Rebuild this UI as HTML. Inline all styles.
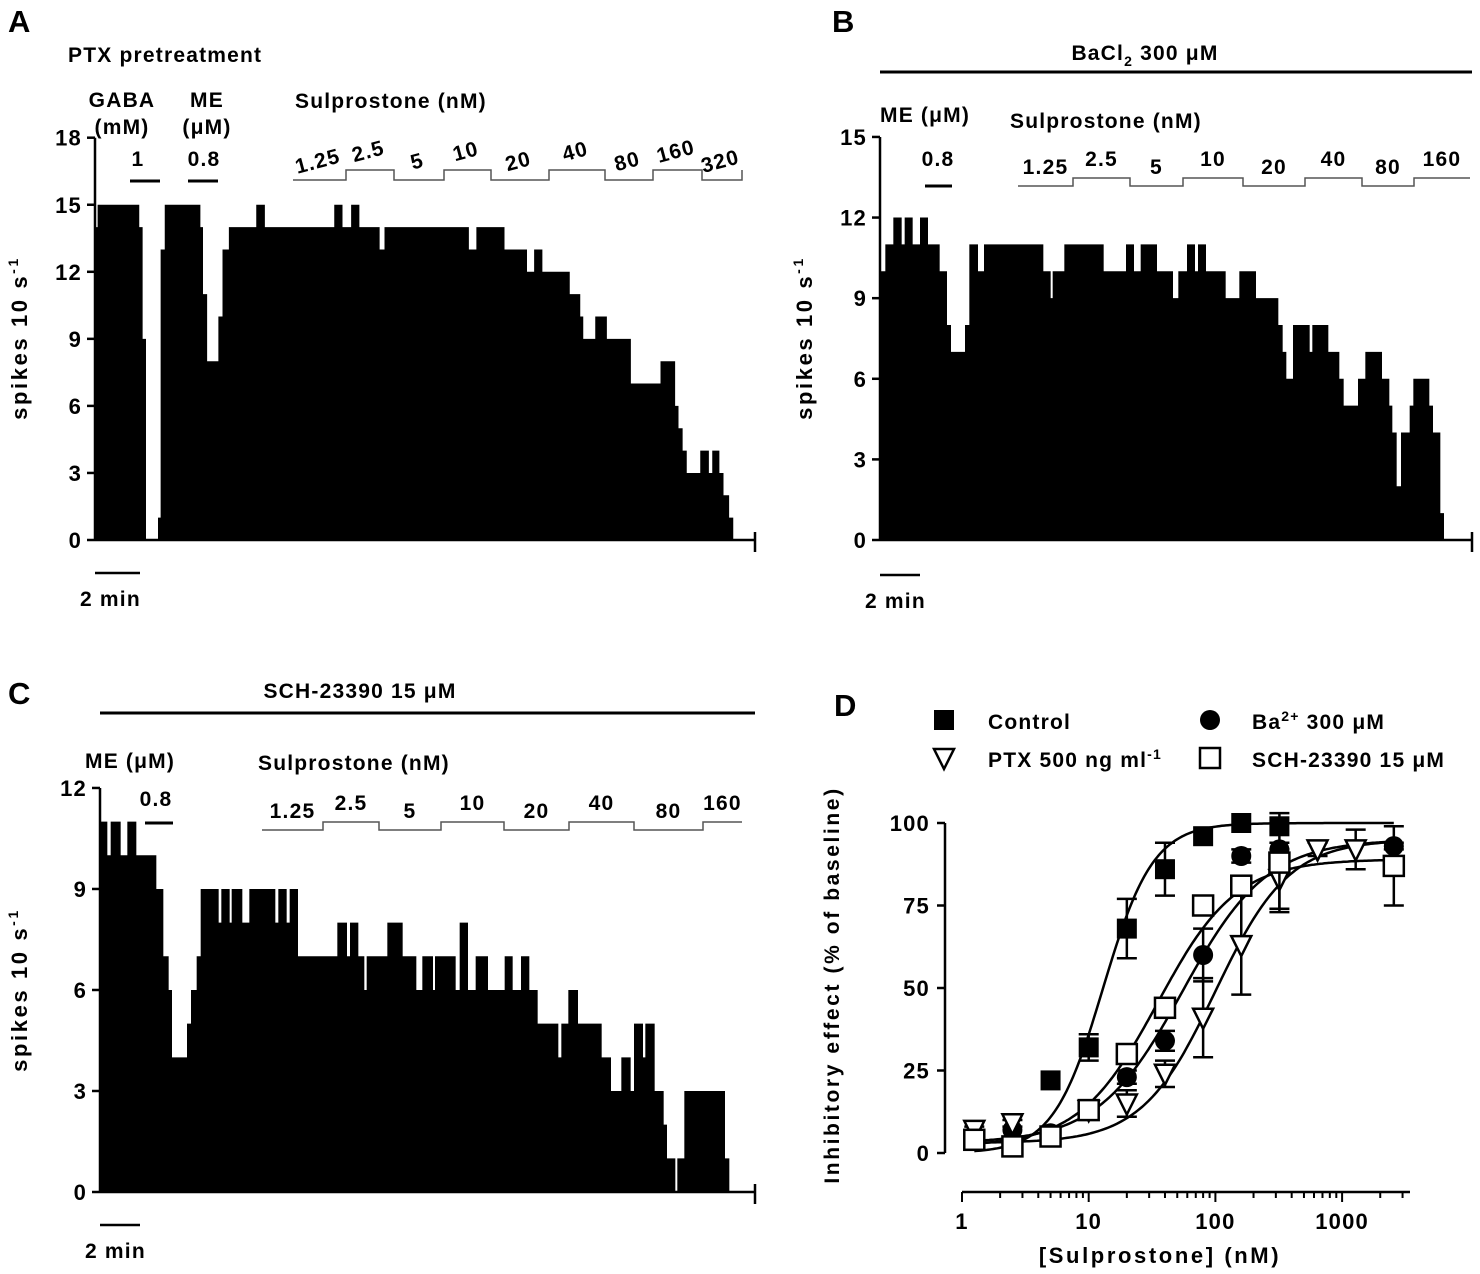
<!DOCTYPE html>
<html><head><meta charset="utf-8"><style>
html,body{margin:0;padding:0;background:#fff}
svg{display:block;font-family:"Liberation Sans",Arial,sans-serif;font-weight:bold;letter-spacing:1.2px}
.ttl{letter-spacing:2.6px}
</style></head><body>
<svg id="fig" width="1480" height="1274" viewBox="0 0 1480 1274" xmlns="http://www.w3.org/2000/svg">
<g font-size="31">
<text x="8" y="32">A</text>
<text x="832" y="32">B</text>
<text x="8" y="704">C</text>
<text x="834" y="716">D</text>
</g>
<g id="pa" font-size="21"></g>
<g id="pb" font-size="21"></g>
<g id="pc" font-size="21"></g>
<g id="pd" font-size="21"></g>
</svg>
<script>
// ---- Panel A data (segment value, segment end time in s) ----
const aVals=[14,15,14,9,0,1,13,15,14,11,8,10,13,14,15,14,15,14,15,14,13,14,13,14,13,12,13,12,11,10,9,10,9,7,8,6,5,4,3,4,3,4,3,2,1];
const aEnds=[7,118,127,136,168,175,186,281,288,299,329,340,357,430,453,638,660,683,705,759,772,997,1017,1092,1152,1171,1193,1266,1294,1302,1334,1365,1429,1508,1547,1556,1567,1578,1614,1637,1646,1665,1676,1691,1702];
const aTicks=[0,3,6,9,12,15,18];
const aConc=["1.25","2.5","5","10","20","40","80","160","320"];
// ---- Panel B data ----
const bVals=[10,11,12,11,12,11,12,11,10,8,7,8,11,10,11,10,9,10,11,10,11,10,11,10,9,10,11,10,11,10,9,10,9,8,7,6,8,7,8,7,6,5,6,7,6,5,4,2,4,5,6,5,4,1];
const bEnds=[16,40,65,74,98,120,144,179,201,213,255,268,294,312,490,512,518,553,671,738,762,782,831,879,895,921,945,954,978,1037,1078,1128,1195,1208,1219,1239,1289,1297,1345,1378,1391,1434,1456,1506,1528,1537,1550,1563,1589,1600,1648,1659,1681,1692];
const bTicks=[0,3,6,9,12,15];
const bConc=["1.25","2.5","5","10","20","40","80","160"];
// ---- Panel C data ----
const cVals=[11,10,11,10,11,10,9,7,6,4,5,6,7,9,8,9,8,9,8,9,8,9,8,9,7,8,7,8,7,6,7,8,7,6,7,6,7,6,8,6,7,6,7,6,7,6,5,4,5,6,5,4,3,4,3,5,4,5,3,2,1,0,1,3,1];
const cEnds=[22,32,62,82,109,169,190,206,216,261,273,290,302,356,364,389,395,427,448,526,535,560,569,594,712,741,750,775,793,800,862,908,949,967,999,1005,1067,1079,1104,1127,1164,1214,1238,1263,1288,1313,1375,1384,1405,1434,1505,1533,1564,1592,1602,1629,1636,1664,1691,1701,1726,1732,1753,1875,1888];
const cTicks=[0,3,6,9,12];
const cConc=["1.25","2.5","5","10","20","40","80","160"];
// ---- Panel D data ----
const dConc=[1.25,2.5,5,10,20,40,80,160,320,640,1280,2560];
const ctrlMean=[null,null,22,32,68,86,96,100,99,null,null,null];
const ctrlErr=[0,0,0,4,9,8,0,0,0,0,0,0];
const baMean=[5,7,6,13,23,34,60,90,92,null,null,93];
const baErr=[0,0,0,0,2,3,8,2,2,0,0,1];
const ptxMean=[7,9,null,13,15,24,41,63,83,92,92,null];
const ptxErr=[1,1,0,2,4,4,12,15,9,2,6,0];
const schMean=[4,2,5,13,30,44,75,81,88,null,null,87];
const schErr=[0,0,0,0,0,0,0,0,15,0,13,12];
const fitCtrl=[0,100,13,2.2];   // bottom, top, EC50, hill
const fitBa=[3,95,55,1.3];
const fitPtx=[3,95,100,1.5];
const fitSch=[2,89,35,1.4];
const dYTicks=[0,25,50,75,100];
const dXTicks=[1,10,100,1000];

const NS='http://www.w3.org/2000/svg';
function mk(parent,tag,attrs){const e=document.createElementNS(NS,tag);for(const k in attrs)e.setAttribute(k,attrs[k]);parent.appendChild(e);return e;}
function txt(parent,x,y,s,anchor,extra){const t=mk(parent,'text',Object.assign({x:x,y:y,'text-anchor':anchor||'start'},extra||{}));t.textContent=s;return t;}

function trace(g,o){
  const sx=t=>o.x0+t*o.pps, sy=v=>o.y0-v*o.upx;
  let d='M'+o.x0+','+o.y0;let t0=0;
  for(let i=0;i<o.vals.length;i++){d+=' L'+sx(t0)+','+sy(o.vals[i])+' L'+sx(o.ends[i])+','+sy(o.vals[i]);t0=o.ends[i];}
  d+=' L'+sx(t0)+','+o.y0+' Z';
  const p=mk(g,'path',{d:d,fill:'#000'});
  
  
  const ya=mk(g,'path',{d:'M'+o.x0+','+sy(o.ticks[o.ticks.length-1])+' V'+o.y0,stroke:'#000','stroke-width':2.5,fill:'none'});
  
  
  const xa=mk(g,'path',{d:'M'+o.x0+','+o.y0+' H'+o.xEnd+' M'+o.xEnd+','+(o.y0-8)+' V'+(o.y0+12),stroke:'#000','stroke-width':2.5,fill:'none'});
  
  
  o.ticks.forEach(v=>{
    const tk=mk(g,'line',{x1:o.x0-8,x2:o.x0,y1:sy(v),y2:sy(v),stroke:'#000','stroke-width':2.5});
    
    
    const lb=txt(g,o.x0-13,sy(v)+8,String(v),'end',{'font-size':22});
    
    
  });
  const yt=txt(g,0,0,'spikes 10 s','middle',{transform:'translate('+o.ytx+','+o.yty+') rotate(-90)','class':'ttl','font-size':22});
  const sup=mk(yt,'tspan',{dy:-9,'font-size':14});sup.textContent='-1';
  
  
  const sb=mk(g,'line',{x1:o.x0,x2:o.x0+120*o.pps,y1:o.sbY,y2:o.sbY,stroke:'#000','stroke-width':2.5});
  
  
  const sl=txt(g,o.x0-15,o.sbY+33,'2 min');
  
  
  let bd='M'+o.br[0]+','+o.brY[0];
  for(let i=0;i<o.br.length-1;i++){const yy=o.brY[i%2];bd+=' V'+yy+' H'+o.br[i+1];}
  bd+=' V'+o.brY[1];
  const b=mk(g,'path',{d:bd,stroke:'#555','stroke-width':1.5,fill:'none'});
  
  
  o.conc.forEach((c,i)=>{
    const cx=(o.br[i]+o.br[i+1])/2, cy=(i%2? o.brY[1]:o.brY[0])-12;
    const l=txt(g,cx,cy,c,'middle',o.rot?{transform:'rotate(-15 '+cx+' '+cy+')'}:{});
    
    
  });
}
function bar(g,x1,x2,y,name){const l=mk(g,'line',{x1:x1,x2:x2,y1:y,y2:y,stroke:'#000','stroke-width':3});}

// Panel A
const pa=document.getElementById('pa');
txt(pa,68,62,'PTX pretreatment');
txt(pa,122,107,'GABA','middle');txt(pa,122,134,'(mM)','middle');
txt(pa,207,107,'ME','middle');txt(pa,207,134,'(\u03bcM)','middle');
txt(pa,138,166,'1','middle');txt(pa,204,166,'0.8','middle');
bar(pa,130,160,181,'gaba-bar');bar(pa,188,218,181,'me-bar');
txt(pa,295,108,'Sulprostone (nM)');
trace(pa,{vals:aVals,ends:aEnds,ticks:aTicks,conc:aConc,x0:95,y0:540,pps:0.375,upx:22.35,xEnd:755,ytx:27,yty:338,sbY:573,
  br:[293,346,394,444,491,549,605,653,702,742],brY:[180,170],rot:true});

// Panel B
const pb=document.getElementById('pb');
const bt=txt(pb,1145,60,'BaCl','middle');const bs=mk(bt,'tspan',{dy:6,'font-size':14});bs.textContent='2';const bs2=mk(bt,'tspan',{dy:-6});bs2.textContent=' 300 \u03bcM';

bar(pb,880,1472,72,'condition-bar');
txt(pb,880,122,'ME (\u03bcM)');txt(pb,938,166,'0.8','middle');bar(pb,925,952,186,'me-bar');
txt(pb,1010,128,'Sulprostone (nM)');
trace(pb,{vals:bVals,ends:bEnds,ticks:bTicks,conc:bConc,x0:880,y0:540,pps:1/3,upx:26.87,xEnd:1472,ytx:812,yty:338,sbY:575,
  br:[1018,1073,1130,1183,1243,1305,1362,1414,1470],brY:[186,178],rot:false});

// Panel C
const pc=document.getElementById('pc');
txt(pc,360,698,'SCH-23390 15 \u03bcM','middle');
bar(pc,100,755,713,'condition-bar');
txt(pc,85,768,'ME (\u03bcM)');txt(pc,156,806,'0.8','middle');bar(pc,145,173,823,'me-bar');
txt(pc,258,770,'Sulprostone (nM)');
trace(pc,{vals:cVals,ends:cEnds,ticks:cTicks,conc:cConc,x0:100,y0:1192,pps:1/3,upx:33.67,xEnd:755,ytx:27,yty:990,sbY:1225,
  br:[262,323,379,441,504,569,634,703,742],brY:[830,822],rot:false});

// Panel D
const pd=document.getElementById('pd');
const lx=c=>962+Math.log10(c)*126.7, ly=v=>1153-v*3.3;
const dya=mk(pd,'path',{d:'M945,'+ly(100)+' V'+ly(0),stroke:'#000','stroke-width':2.5,fill:'none'});

dYTicks.forEach(v=>{mk(pd,'line',{x1:937,x2:945,y1:ly(v),y2:ly(v),stroke:'#000','stroke-width':2.5});
  const t=txt(pd,930,ly(v)+8,String(v),'end',{'font-size':22});});
const dxa=mk(pd,'path',{d:'M962,1192 H1410',stroke:'#000','stroke-width':2.5,fill:'none'});

for(let dec=1;dec<=1000;dec*=10){for(let k=1;k<10;k++){const c=dec*k;const x=lx(c);if(x>1410)break;
  mk(pd,'line',{x1:x,x2:x,y1:1192,y2:1192+(k===1?10:6),stroke:'#000','stroke-width':2});}}
dXTicks.forEach(c=>{const t=txt(pd,lx(c),1229,String(c),'middle',{'font-size':22});});
txt(pd,1160,1263,'[Sulprostone] (nM)','middle',{'class':'ttl','font-size':22});
txt(pd,0,0,'Inhibitory effect (% of baseline)','middle',{transform:'translate(839,985) rotate(-90)','class':'ttl','font-size':21});
function fitLine(f,name){let d='';for(let i=0;i<=200;i++){const lc=Math.log10(1.25)+i*(Math.log10(2560)-Math.log10(1.25))/200;
  const v=f[0]+(f[1]-f[0])/(1+Math.pow(10,(Math.log10(f[2])-lc)*f[3]));d+=(i?' L':'M')+lx(Math.pow(10,lc)).toFixed(1)+','+ly(v).toFixed(1);}
  const p=mk(pd,'path',{d:d,stroke:'#000','stroke-width':2.5,fill:'none'});}
fitLine(fitCtrl,'fit-control');fitLine(fitBa,'fit-ba');fitLine(fitPtx,'fit-ptx');fitLine(fitSch,'fit-sch');
function marker(g,type,x,y){
  if(type==='fsq')return mk(g,'rect',{x:x-10,y:y-10,width:20,height:20,fill:'#000'});
  if(type==='osq')return mk(g,'rect',{x:x-10,y:y-10,width:20,height:20,fill:'#fff',stroke:'#000','stroke-width':2.5});
  if(type==='circ')return mk(g,'circle',{cx:x,cy:y,r:10,fill:'#000'});
  return mk(g,'path',{d:'M'+(x-10)+','+(y-9)+' H'+(x+10)+' L'+x+','+(y+11)+' Z',fill:'#fff',stroke:'#000','stroke-width':2.5});
}
function series(mean,err,type,name){
  mean.forEach((m,i)=>{if(m===null)return;const x=lx(dConc[i]),y=ly(m);
    if(err[i]>0){const e=mk(pd,'path',{d:'M'+x+','+ly(m-err[i])+' V'+ly(m+err[i])+' M'+(x-10)+','+ly(m+err[i])+' h20 M'+(x-10)+','+ly(m-err[i])+' h20',stroke:'#000','stroke-width':2.5,fill:'none'});
      }
    const p=marker(pd,type,x,y);});
}
series(baMean,baErr,'circ','ba');series(ptxMean,ptxErr,'tri','ptx');series(ctrlMean,ctrlErr,'fsq','control');series(schMean,schErr,'osq','sch');
const lg=mk(pd,'g',{});
marker(lg,'fsq',944,720);txt(lg,988,729,'Control');
marker(lg,'circ',1210,720);const l2=txt(lg,1252,729,'Ba');const s2=mk(l2,'tspan',{dy:-8,'font-size':14});s2.textContent='2+';const s3=mk(l2,'tspan',{dy:8});s3.textContent=' 300 \u03bcM';
marker(lg,'tri',944,758);const l3=txt(lg,988,767,'PTX 500 ng ml');const s4=mk(l3,'tspan',{dy:-8,'font-size':14});s4.textContent='-1';
marker(lg,'osq',1210,758);txt(lg,1252,767,'SCH-23390 15 \u03bcM');
</script>
</body></html>
